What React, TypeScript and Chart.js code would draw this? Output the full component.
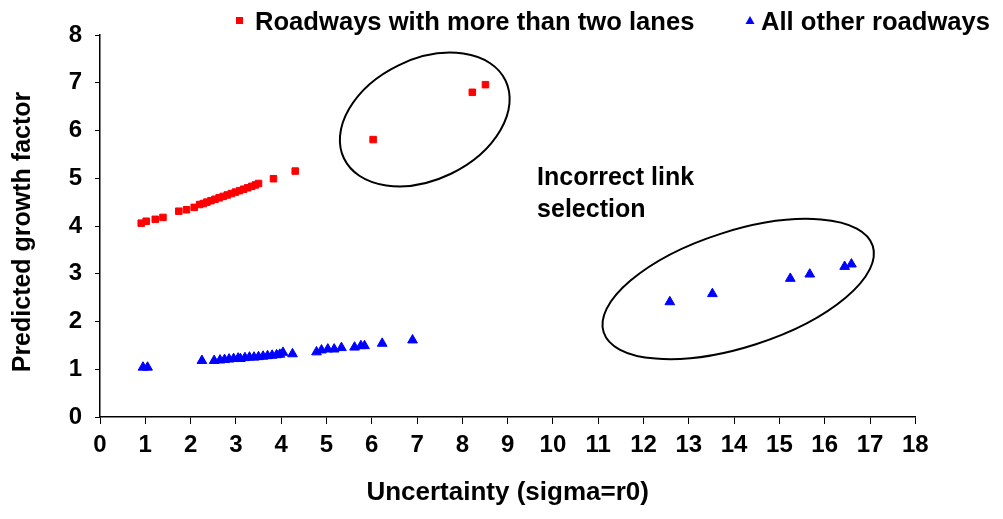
import React, { useEffect, useRef } from "react";
import { Chart, registerables } from "chart.js";

Chart.register(...registerables);

// ---- data ----
const wideX = [0.91, 1.02, 1.22, 1.39, 1.74, 1.91, 2.08, 2.2, 2.28, 2.36, 2.45, 2.54, 2.63, 2.72, 2.81, 2.9, 2.99, 3.08, 3.17, 3.26, 3.35, 3.43, 3.5, 3.83, 4.31, 6.03, 8.22, 8.51];
const wideY = [4.06, 4.1, 4.14, 4.18, 4.31, 4.34, 4.39, 4.45, 4.47, 4.5, 4.53, 4.56, 4.59, 4.62, 4.65, 4.68, 4.71, 4.74, 4.77, 4.8, 4.83, 4.86, 4.89, 4.99, 5.15, 5.81, 6.8, 6.96];

const otherX = [0.95, 1.05, 2.25, 2.52, 2.65, 2.75, 2.85, 2.95, 3.05, 3.1, 3.2, 3.3, 3.4, 3.5, 3.6, 3.7, 3.8, 3.9, 3.97, 4.04, 4.25, 4.78, 4.89, 5.03, 5.17, 5.33, 5.62, 5.76, 5.84, 6.23, 6.9, 12.58, 13.52, 15.24, 15.67, 16.44, 16.59];
const otherY = [1.04, 1.04, 1.18, 1.18, 1.19, 1.2, 1.21, 1.22, 1.23, 1.22, 1.24, 1.25, 1.25, 1.26, 1.27, 1.28, 1.29, 1.3, 1.31, 1.35, 1.32, 1.36, 1.4, 1.42, 1.42, 1.45, 1.46, 1.49, 1.49, 1.54, 1.61, 2.41, 2.58, 2.9, 2.99, 3.15, 3.2];

const seriesNames = ["Roadways with more than two lanes", "All other roadways"];
const xTicks = [0, 18, 1];
const yTicks = [0, 8, 1];
const xTitle = "Uncertainty (sigma=r0)";
const yTitle = "Predicted growth factor";
const noteLines = ["Incorrect link", "selection"];

// ellipses: center (data), semi-axes (x-axis units), rotation (deg)
const ellipseCx = [7.17, 14.09];
const ellipseCy = [6.23, 2.68];
const ellipseA = [1.98, 3.12];
const ellipseB = [1.33, 1.28];
const ellipseRot = [25.8, 17.8];

const FONT = "'Liberation Sans', Arial, sans-serif";

const overlay = {
  id: "overlay",
  afterDatasetsDraw(chart: any) {
    const { ctx, scales } = chart;
    const xs = scales.x;
    const ys = scales.y;
    const unit = xs.getPixelForValue(1) - xs.getPixelForValue(0);
    ctx.save();
    ctx.strokeStyle = "#000";
    ctx.lineWidth = 2;
    for (let i = 0; i < ellipseCx.length; i++) {
      ctx.beginPath();
      ctx.ellipse(
        xs.getPixelForValue(ellipseCx[i]),
        ys.getPixelForValue(ellipseCy[i]),
        ellipseA[i] * unit,
        ellipseB[i] * unit,
        (-ellipseRot[i] * Math.PI) / 180,
        0,
        Math.PI * 2
      );
      ctx.stroke();
    }
    // annotation text
    ctx.fillStyle = "#000";
    ctx.font = `bold 25px ${FONT}`;
    ctx.textAlign = "left";
    ctx.textBaseline = "alphabetic";
    const tx = xs.getPixelForValue(9.65);
    const ty = ys.getPixelForValue(4.86);
    noteLines.forEach((t, i) => ctx.fillText(t, tx, ty + i * 31.7));

    // y axis title (slightly below centre, as in the reference)
    ctx.save();
    ctx.font = `bold 25px ${FONT}`;
    ctx.textAlign = "center";
    ctx.textBaseline = "middle";
    ctx.translate(23, (ys.top + ys.bottom) / 2 + 6);
    ctx.rotate(-Math.PI / 2);
    ctx.fillText(yTitle, 0, 0);
    ctx.restore();

    // legend
    ctx.font = `bold 25.6px ${FONT}`;
    ctx.textAlign = "left";
    ctx.textBaseline = "alphabetic";
    const ly = 30;
    ctx.fillStyle = "#FF0000";
    ctx.fillRect(236, 17, 7, 7);
    ctx.fillStyle = "#000";
    ctx.fillText(seriesNames[0], 255, ly);
    const w2 = ctx.measureText(seriesNames[1]).width;
    const start2 = 990 - w2;
    ctx.fillStyle = "#0000FF";
    ctx.beginPath();
    const tcx = start2 - 11;
    ctx.moveTo(tcx, 16);
    ctx.lineTo(tcx + 4.5, 24);
    ctx.lineTo(tcx - 4.5, 24);
    ctx.closePath();
    ctx.fill();
    ctx.fillStyle = "#000";
    ctx.fillText(seriesNames[1], start2, ly);
    ctx.restore();
  },
};

export default function App() {
  const ref = useRef<HTMLCanvasElement>(null);
  useEffect(() => {
    if (!ref.current) return;
    const chart = new Chart(ref.current, {
      type: "scatter",
      data: {
        datasets: [
          {
            label: seriesNames[0],
            data: wideX.map((x, i) => ({ x, y: wideY[i] })),
            pointStyle: "rect",
            pointRadius: 4.6,
            backgroundColor: "#FF0000",
            borderColor: "#FF0000",
            borderWidth: 1,
          },
          {
            label: seriesNames[1],
            data: otherX.map((x, i) => ({ x, y: otherY[i] })),
            pointStyle: "triangle",
            pointRadius: 5.6,
            backgroundColor: "#0000FF",
            borderColor: "#0000FF",
            borderWidth: 1,
          },
        ],
      },
      options: {
        animation: false,
        responsive: false,
        devicePixelRatio: 1,
        layout: { padding: { top: 35, right: 87.7, bottom: 0, left: 0 } },
        plugins: {
          legend: { display: false },
          tooltip: { enabled: false },
        },
        scales: {
          x: {
            type: "linear",
            min: xTicks[0],
            max: xTicks[1],
            afterFit: (s: any) => {
              s.height = 102;
            },
            ticks: {
              stepSize: xTicks[2],
              color: "#000",
              padding: 7,
              font: { family: FONT, size: 24, weight: "bold" },
            },
            grid: { display: true, drawOnChartArea: false, drawTicks: true, tickLength: 7, color: "#000" },
            border: { display: true, color: "#000", width: 1.5 },
            title: {
              display: true,
              text: xTitle,
              color: "#000",
              padding: { top: 0, bottom: 10.4 },
              font: { family: FONT, size: 26, weight: "bold" },
            },
          },
          y: {
            type: "linear",
            min: yTicks[0],
            max: yTicks[1],
            afterFit: (s: any) => {
              s.width = 100;
            },
            ticks: {
              stepSize: yTicks[2],
              color: "#000",
              padding: 13,
              font: { family: FONT, size: 24, weight: "bold" },
            },
            grid: { display: true, drawOnChartArea: false, drawTicks: true, tickLength: 5, color: "#000" },
            border: { display: true, color: "#000", width: 1.5 },
            title: { display: false, text: yTitle },
          },
        },
      },
      plugins: [overlay],
    });
    return () => chart.destroy();
  }, []);
  return (
    <div style={{ position: "absolute", left: 0, top: 0, width: 1003, height: 519 }}>
      <canvas ref={ref} width={1003} height={519} style={{ width: 1003, height: 519 }} />
    </div>
  );
}
